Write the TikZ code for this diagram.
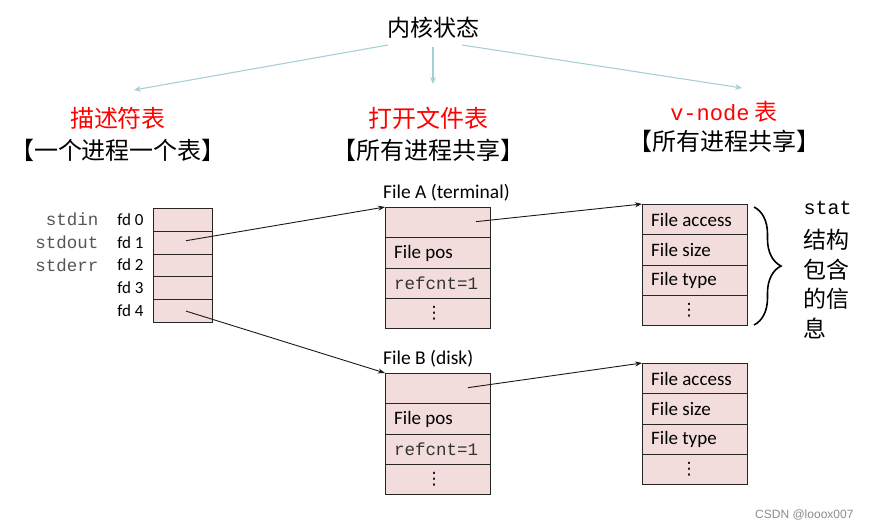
\documentclass[tikz,border=0pt]{standalone}
\usepackage{fontspec}
\setmainfont{Carlito}
\newfontfamily\cjk{Noto Sans CJK SC}
\newfontfamily\mono{Liberation Mono}
\newfontfamily\wmfont{Liberation Sans}
\newfontfamily\dvs{DejaVu Sans}
\usetikzlibrary{decorations.pathreplacing,arrows.meta,calc}
\definecolor{cellpink}{RGB}{242,220,220}
\definecolor{kblue}{RGB}{165,208,214}
\definecolor{lblgray}{RGB}{85,85,85}
\begin{document}
\begin{tikzpicture}[x=1pt,y=-1pt,
  cell/.style={draw=black!85, line width=1pt, fill=cellpink, anchor=north west, inner sep=0pt},
  dcell/.style={cell, minimum width=59pt, minimum height=22.8pt},
  fcell/.style={cell, minimum width=105pt, minimum height=30.3pt},
  ctext/.style={anchor=west, inner sep=0pt, font=\fontsize{19}{19}\selectfont},
  dtext/.style={inner sep=0pt, font=\dvs\fontsize{17}{17}\selectfont},
  kar/.style={draw=kblue, line width=1.1pt, -{Stealth[length=7pt,width=6pt]}},
  par/.style={draw=black!90, line width=0.9pt, -{Stealth[length=7pt,width=5pt]}},
  title/.style={text=red, font=\cjk\fontsize{24}{24}\selectfont},
  sub/.style={font=\cjk\fontsize{24}{24}\selectfont},
  fdl/.style={anchor=east, font=\fontsize{17}{17}\selectfont},
  stdl/.style={anchor=east, text=lblgray, font=\mono\fontsize{17.5}{17.5}\selectfont},
  refl/.style={anchor=west, inner sep=0pt, text=black!80, font=\mono\fontsize{17.5}{17.5}\selectfont},
  statl/.style={anchor=west, font=\cjk\fontsize{23}{23}\selectfont}
]
\useasboundingbox (0,0) rectangle (871,530);

% ---- top titles
\node[font=\cjk\fontsize{23}{23}\selectfont] (kern) at (433,28) {内核状态};
\node[title] (t1) at (118,118) {描述符表};
\node[sub] (s1) at (118,150) {【一个进程一个表】};
\node[title] (t2) at (428,118) {打开文件表};
\node[sub] (s2) at (428,150) {【所有进程共享】};
\node[text=red, font=\fontsize{23}{23}\selectfont] (t3) at (724,112) {{\mono\fontsize{22}{22}\selectfont v-node} {\cjk 表}};
\node[sub] (s3) at (724,141) {【所有进程共享】};

\coordinate (k1) at (388,45);
\coordinate (k2) at (433,47);
\coordinate (k3) at (462,45);
\coordinate (e1) at (134,90);
\coordinate (e2) at (433,84);
\coordinate (e3) at (742,88);
\draw[kar] (k1) -- (e1);
\draw[kar] (k2) -- (e2);
\draw[kar] (k3) -- (e3);

% ---- descriptor table
\foreach \i in {0,...,4}{
  \node[dcell] (d\i) at (153,{208+22.8*\i}) {};
  \node[fdl] (fd\i) at (147,{219.4+22.8*\i}) {fd \i};
}
\node[stdl] (sin) at (102,219.4) {stdin};
\node[stdl] (sout) at (102,242.2) {stdout};
\node[stdl] (serr) at (102,265.0) {stderr};

% ---- open file table A
\node[font=\fontsize{19.5}{19.5}\selectfont, anchor=south west, inner sep=0pt] (fal) at (383,201) {File A (terminal)};
\node[fcell] (a0) at (385,207) {};
\node[fcell] (a1) at (385,237.3) {};
\node[fcell] (a2) at (385,267.6) {};
\node[fcell] (a3) at (385,297.9) {};
\node[ctext] (a1t) at ($(a1.west)+(9,0)$) {File pos};
\node[refl] (a2t) at ($(a2.west)+(9,0)$) {refcnt=1};
\node[dtext] (a3t) at ($(a3.center)+(-4,0)$) {⋮};

% ---- open file table B
\node[font=\fontsize{19.5}{19.5}\selectfont, anchor=south west, inner sep=0pt] (fbl) at (383,367) {File B (disk)};
\node[fcell] (b0) at (385,373) {};
\node[fcell] (b1) at (385,403.3) {};
\node[fcell] (b2) at (385,433.6) {};
\node[fcell] (b3) at (385,463.9) {};
\node[ctext] (b1t) at ($(b1.west)+(9,0)$) {File pos};
\node[refl] (b2t) at ($(b2.west)+(9,0)$) {refcnt=1};
\node[dtext] (b3t) at ($(b3.center)+(-4,0)$) {⋮};

% ---- v-node tables
\node[fcell] (va0) at (642,204) {};
\node[fcell] (va1) at (642,234.3) {};
\node[fcell] (va2) at (642,264.6) {};
\node[fcell] (va3) at (642,294.9) {};
\node[ctext] (va0t) at ($(va0.west)+(9,0)$) {File access};
\node[ctext] (va1t) at ($(va1.west)+(9,0)$) {File size};
\node[ctext] (va2t) at ($(va2.west)+(9,0)$) {File type};
\node[dtext] (va3t) at ($(va3.center)+(-6,0)$) {⋮};

\node[fcell] (vb0) at (642,363) {};
\node[fcell] (vb1) at (642,393.3) {};
\node[fcell] (vb2) at (642,423.6) {};
\node[fcell] (vb3) at (642,453.9) {};
\node[ctext] (vb0t) at ($(vb0.west)+(9,0)$) {File access};
\node[ctext] (vb1t) at ($(vb1.west)+(9,0)$) {File size};
\node[ctext] (vb2t) at ($(vb2.west)+(9,0)$) {File type};
\node[dtext] (vb3t) at ($(vb3.center)+(-6,0)$) {⋮};

% ---- pointers
\coordinate (p1) at ($(d1.center)+(3,-2)$);
\coordinate (p4) at ($(d4.center)+(3,0)$);
\coordinate (pa) at ($(a0.center)+(38,-1)$);
\coordinate (pb) at ($(b0.center)+(30,-1)$);
\draw[par] (p1) -- (a0.north west);
\draw[par] (p4) -- (b0.north west);
\draw[par] (pa) -- (va0.north west);
\draw[par] (pb) -- (vb0.north west);

% ---- brace and stat text
\draw[line width=1.6pt, decorate, decoration={brace, amplitude=27pt, aspect=0.5}] (754,207) -- (754,325);
\node[anchor=west, font=\mono\fontsize{20}{20}\selectfont] (st0) at (800,208) {stat};
\node[statl] (st1) at (800,240) {结构};
\node[statl] (st2) at (800,270) {包含};
\node[statl] (st3) at (800,299) {的信};
\node[statl] (st4) at (800,328) {息};

% ---- watermark
\node[anchor=east, text=black!45, font=\wmfont\fontsize{12}{12}\selectfont] (wm) at (857,515) {CSDN @looox007};
\end{tikzpicture}
\end{document}
